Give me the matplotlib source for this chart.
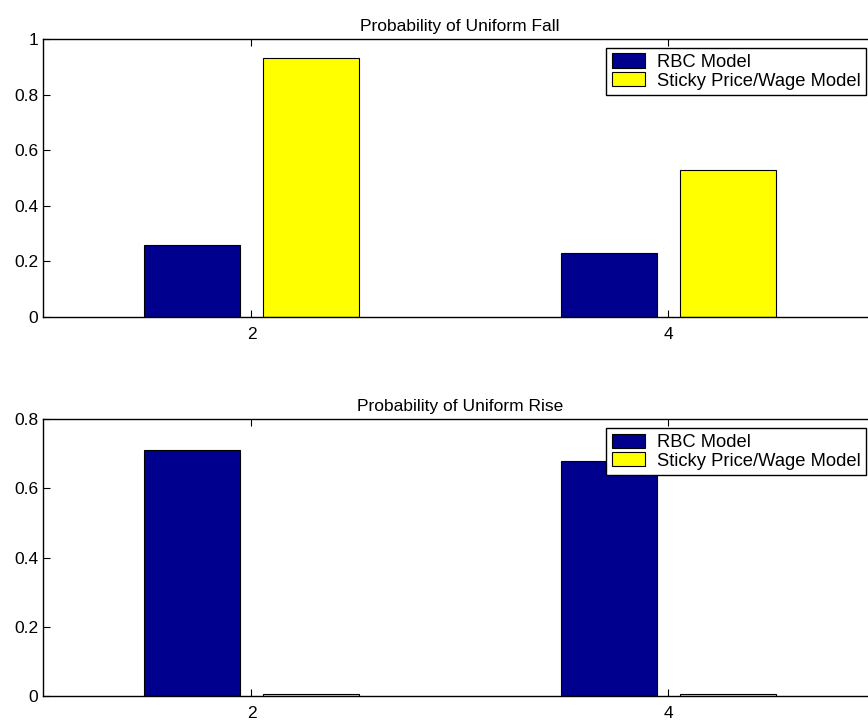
import matplotlib
matplotlib.use("Agg")
import matplotlib.pyplot as plt
import numpy as np

plt.rcParams["font.family"] = ["Liberation Sans", "DejaVu Sans"]
plt.rcParams["font.size"] = 12.5

horizons = [2, 4]
labels = ["RBC Model", "Sticky Price/Wage Model"]
fall_rbc = [0.26, 0.23]
fall_sticky = [0.93, 0.53]
rise_rbc = [0.71, 0.68]
rise_sticky = [0.006, 0.006]

blue = "#00008f"
yellow = "#ffff00"
width = 0.46
offset = 0.285

fig = plt.figure(figsize=(8.68, 7.23), dpi=100)
W = 834 / 868
ax1 = fig.add_axes([43 / 868, 1 - 317 / 723, W, 278 / 723])
ax2 = fig.add_axes([43 / 868, 1 - 696 / 723, W, 277 / 723])

panels = [
    (ax1, fall_rbc, fall_sticky, "Probability of Uniform Fall", 1.0, [0, 0.2, 0.4, 0.6, 0.8, 1], 48),
    (ax2, rise_rbc, rise_sticky, "Probability of Uniform Rise", 0.8, [0, 0.2, 0.4, 0.6, 0.8], 428),
]

x = np.array(horizons, dtype=float)
for ax, rbc, sticky, title, ymax, yt, leg_top in panels:
    ax.bar(x - offset, rbc, width, color=blue, edgecolor="black", linewidth=0.8, label=labels[0])
    ax.bar(x + offset, sticky, width, color=yellow, edgecolor="black", linewidth=0.8, label=labels[1])
    ax.set_xlim(1, 5)
    ax.set_ylim(0, ymax)
    ax.set_xticks(horizons)
    ax.set_yticks(yt)
    ax.set_yticklabels([f"{v:g}" for v in yt])
    ax.tick_params(direction="in", length=5, width=0.8, top=True, right=True)
    ax.tick_params(axis="x", pad=7)
    ax.tick_params(axis="y", pad=3.5)
    for s in ax.spines.values():
        s.set_linewidth(1.0)
    ax.set_title(title, fontsize=12.5, pad=6)
    leg = ax.legend(loc="upper right", bbox_to_anchor=(866 / 868, 1 - leg_top / 723),
                    bbox_transform=fig.transFigure, borderaxespad=0, fancybox=False,
                    framealpha=1, edgecolor="black", handlelength=1.8, handleheight=0.8,
                    handletextpad=0.65, labelspacing=0.08, borderpad=0.3, fontsize=13.2)
    leg.get_frame().set_linewidth(1.0)

fig.savefig("out.png", dpi=100)
